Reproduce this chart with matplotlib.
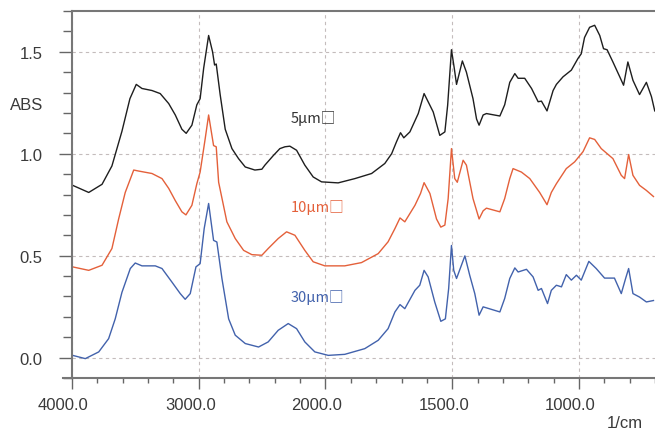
import numpy as np
import matplotlib
matplotlib.use("Agg")
import matplotlib.pyplot as plt
import matplotlib.transforms as mtransforms

# wavenumber (1/cm) and absorbance
wn_5 = [3995, 3868, 3763, 3685, 3606, 3543, 3493, 3448, 3369, 3304, 3237, 3185,
        3133, 3099, 3054, 3015, 2989, 2961, 2922, 2891, 2875, 2862, 2831, 2791,
        2738, 2686, 2633, 2557, 2502, 2478, 2413, 2360, 2320, 2281, 2228, 2163,
        2097, 2031, 1950, 1884, 1818, 1766, 1739, 1720, 1704, 1691, 1667, 1634,
        1611, 1595, 1575, 1549, 1529, 1518, 1503, 1492, 1483, 1460, 1444, 1418,
        1404, 1394, 1378, 1365, 1312, 1293, 1273, 1253, 1240, 1214, 1187, 1161,
        1148, 1126, 1102, 1089, 1063, 1030, 1004, 991, 978, 958, 938, 918, 903,
        889, 866, 839, 824, 807, 787, 761, 734, 714, 701]
abs_5 = [0.845, 0.81, 0.85, 0.94, 1.11, 1.27, 1.34, 1.32, 1.31, 1.295, 1.246, 1.19,
         1.12, 1.10, 1.14, 1.24, 1.27, 1.42, 1.58, 1.50, 1.435, 1.44, 1.29, 1.12,
         1.025, 0.976, 0.935, 0.92, 0.924, 0.944, 0.99, 1.025, 1.034, 1.037, 1.017, 0.944,
         0.886, 0.862, 0.857, 0.878, 0.903, 0.952, 1.00, 1.058, 1.103, 1.078, 1.107, 1.197,
         1.295, 1.255, 1.205, 1.09, 1.107, 1.238, 1.51, 1.42, 1.34, 1.455, 1.40, 1.27,
         1.17, 1.14, 1.19, 1.197, 1.185, 1.24, 1.35, 1.393, 1.37, 1.37, 1.32, 1.255,
         1.258, 1.21, 1.31, 1.34, 1.377, 1.41, 1.467, 1.49, 1.57, 1.62, 1.63, 1.58, 1.515,
         1.51, 1.45, 1.377, 1.336, 1.45, 1.36, 1.29, 1.35, 1.28, 1.21]

wn_10 = [3995, 3868, 3763, 3685, 3632, 3580, 3513, 3474, 3369, 3290, 3237, 3185,
         3133, 3101, 3054, 3015, 2989, 2949, 2922, 2883, 2862, 2843, 2778, 2712,
         2646, 2581, 2502, 2452, 2373, 2307, 2241, 2163, 2097, 2005, 1924, 1858,
         1792, 1753, 1726, 1706, 1687, 1647, 1625, 1611, 1588, 1562, 1545, 1529,
         1516, 1503, 1490, 1480, 1457, 1444, 1418, 1394, 1378, 1365, 1312, 1293,
         1273, 1260, 1227, 1194, 1155, 1126, 1109, 1089, 1050, 1017, 984, 958,
         938, 912, 866, 833, 820, 804, 787, 761, 734, 706]
abs_10 = [0.445, 0.428, 0.453, 0.535, 0.68, 0.81, 0.92, 0.915, 0.903, 0.878, 0.83, 0.77,
          0.715, 0.70, 0.747, 0.853, 0.91, 1.074, 1.19, 1.04, 1.034, 0.86, 0.666, 0.584,
          0.526, 0.505, 0.502, 0.535, 0.584, 0.617, 0.60, 0.526, 0.47, 0.45, 0.45, 0.466,
          0.51, 0.568, 0.633, 0.685, 0.666, 0.747, 0.805, 0.858, 0.805, 0.68, 0.64, 0.65,
          0.78, 1.025, 0.878, 0.86, 0.968, 0.944, 0.78, 0.68, 0.72, 0.733, 0.715, 0.78,
          0.878, 0.927, 0.91, 0.878, 0.81, 0.75, 0.81, 0.853, 0.927, 0.96, 1.01, 1.078,
          1.07, 1.025, 0.976, 0.894, 0.878, 0.996, 0.894, 0.845, 0.82, 0.79]

wn_30 = [3995, 3895, 3789, 3711, 3659, 3606, 3540, 3501, 3448, 3343, 3290, 3211,
         3146, 3107, 3067, 3022, 2989, 2957, 2922, 2883, 2857, 2817, 2764, 2712,
         2633, 2528, 2452, 2373, 2294, 2228, 2163, 2084, 1989, 1924, 1845, 1792,
         1753, 1726, 1706, 1687, 1647, 1628, 1611, 1595, 1569, 1545, 1527, 1514,
         1503, 1494, 1483, 1450, 1431, 1411, 1394, 1378, 1312, 1293, 1273, 1253,
         1240, 1207, 1181, 1161, 1148, 1124, 1109, 1089, 1069, 1050, 1030, 1010,
         991, 961, 932, 899, 860, 833, 816, 804, 787, 761, 734, 706]
abs_30 = [0.011, -0.005, 0.028, 0.093, 0.19, 0.32, 0.437, 0.464, 0.45, 0.45, 0.437, 0.37,
          0.314, 0.286, 0.314, 0.445, 0.461, 0.633, 0.756, 0.575, 0.567, 0.388, 0.19, 0.11,
          0.069, 0.052, 0.077, 0.134, 0.167, 0.142, 0.077, 0.028, 0.011, 0.016, 0.044, 0.085,
          0.142, 0.224, 0.26, 0.24, 0.33, 0.355, 0.428, 0.396, 0.273, 0.178, 0.19, 0.339,
          0.55, 0.428, 0.388, 0.499, 0.404, 0.314, 0.208, 0.249, 0.224, 0.29, 0.388, 0.44,
          0.42, 0.433, 0.396, 0.33, 0.339, 0.265, 0.33, 0.355, 0.347, 0.407, 0.38, 0.404,
          0.38, 0.472, 0.437, 0.39, 0.39, 0.314, 0.388, 0.437, 0.314, 0.297, 0.273, 0.28]

series_labels = ["5\u03bcm\u25a1", "10\u03bcm\u25a1", "30\u03bcm\u25a1"]
label_y = [1.18, 0.74, 0.30]
x_major = [4000, 3000, 2000, 1500, 1000]
y_major = [0.0, 0.5, 1.0, 1.5]

colors = ["#1e1e1e", "#e4603a", "#4262ac"]
label_colors = ["#333333", "#e4603a", "#4262ac"]


def fwd(w):
    # IR style axis: 2x expansion below 2000 1/cm
    w = np.asarray(w, dtype=float)
    return np.where(w >= 2000, (w - 2000) / 1000.0, (w - 2000) / 500.0)


def inv(u):
    u = np.asarray(u, dtype=float)
    return np.where(u >= 0, 2000 + 1000.0 * u, 2000 + 500.0 * u)


plt.rcParams['font.family'] = ['Liberation Sans', 'DejaVu Sans']

fig = plt.figure(figsize=(6.55, 4.31), dpi=100)
ax = fig.add_axes([72 / 655, 1 - 379 / 431, 583 / 655, 367 / 431])
ax.set_xscale('function', functions=(fwd, inv))

for wn, ab, c in zip([wn_5, wn_10, wn_30], [abs_5, abs_10, abs_30], colors):
    ax.plot(wn, ab, color=c, lw=1.0)

for txt, yy, c in zip(series_labels, label_y, label_colors):
    ax.text(2277, yy, txt, color=c, fontsize=10.5, ha='left', va='center',
            family=['Noto Sans CJK JP', 'DejaVu Sans'])

ax.set_xlim(4000, 700)
ax.set_ylim(-0.1, 1.7)

ax.set_xticks(x_major)
ax.set_xticklabels(['%.1f' % v for v in x_major])
ax.set_xticks(list(range(3800, 2000, -200)) + list(range(1900, 600, -100)), minor=True)
ax.set_yticks(y_major)
ax.set_yticklabels(['%.1f' % v for v in y_major])
ax.set_yticks([v / 10 for v in range(-1, 18)], minor=True)

ax.tick_params(axis='both', which='both', direction='out', colors='#666666',
               labelcolor='#3a3a3a', labelsize=12, width=1.0)
ax.tick_params(axis='y', which='major', length=9.5, pad=11.5)
ax.tick_params(axis='y', which='minor', length=6.5)
ax.tick_params(axis='x', which='major', length=8, pad=5.5)
ax.tick_params(axis='x', which='minor', length=3.6)

# x labels sit a little left of their ticks
offset = mtransforms.ScaledTranslation(-8.5 / 100, 0, fig.dpi_scale_trans)
for lab in ax.get_xticklabels():
    lab.set_transform(lab.get_transform() + offset)

ax.grid(True, which='major', linestyle=(0, (3, 3)), color='#c4bcbc', lw=0.8)

for side in ['left', 'bottom', 'top']:
    ax.spines[side].set_color('#777777')
    ax.spines[side].set_linewidth(1.5)
ax.spines['right'].set_visible(False)

# bottom axis line runs a bit past the y axis
ax.plot([-9 / 583, 0], [0, 0], transform=ax.transAxes, color='#777777',
        lw=1.5, clip_on=False)

fig.text(43 / 655, 1 - 106 / 431, 'ABS', ha='right', va='center',
         fontsize=12, color='#3a3a3a')
fig.text(643 / 655, 1 - 424 / 431, '1/cm', ha='right', va='center',
         fontsize=12, color='#3a3a3a')

fig.savefig('out.png', dpi=100)
